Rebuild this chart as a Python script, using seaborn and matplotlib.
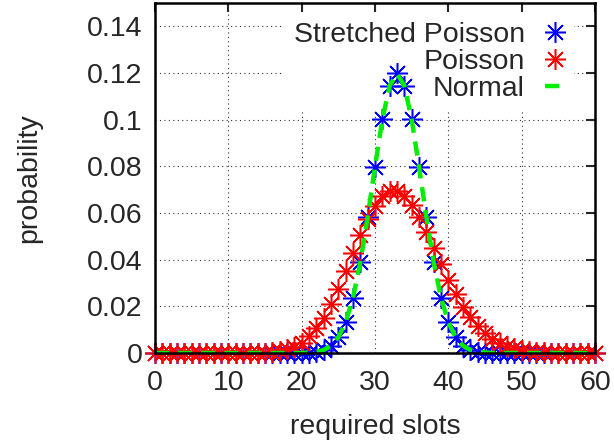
import seaborn as sns
import matplotlib.pyplot as plt

# valeurs
slots = list(range(0, 61))

stretched = [0.0] * 21 + [
    0.0002, 0.0005, 0.0013, 0.0031, 0.0067, 0.0132, 0.0237, 0.0389, 0.0583, 0.0799,
    0.1001, 0.1145, 0.1198, 0.1145, 0.1001, 0.0799, 0.0583, 0.0389, 0.0237, 0.0132,
    0.0067, 0.0031, 0.0013, 0.0005, 0.0002,
] + [0.0] * 15

poisson = [0.0] * 12 + [
    0.00002, 0.00004, 0.0001, 0.0002, 0.0004, 0.0009, 0.0016, 0.0027, 0.0045, 0.0071,
    0.0106, 0.0152, 0.0209, 0.0276, 0.0350, 0.0428, 0.0504, 0.0574, 0.0631, 0.0672,
    0.0693, 0.0693, 0.0672, 0.0634, 0.0581, 0.0518, 0.0450, 0.0381, 0.0314, 0.0253,
    0.0199, 0.0153, 0.0114, 0.0084, 0.0060, 0.0042, 0.0029, 0.0020, 0.0013, 0.0008,
    0.0005, 0.0003, 0.0002, 0.0001, 0.0001,
] + [0.0] * 4

normal = list(stretched)

xticks = [0, 10, 20, 30, 40, 50, 60]
yticks = [0, 0.02, 0.04, 0.06, 0.08, 0.1, 0.12, 0.14]
ytick_labels = ['0', '0.02', '0.04', '0.06', '0.08', '0.1', '0.12', '0.14']

sns.set_style('white')
plt.rcParams['font.family'] = ['Liberation Sans', 'DejaVu Sans']
fs = 20.5

fig = plt.figure(figsize=(6.14, 4.44), dpi=100)
ax = fig.add_axes([155 / 614, 1 - 353 / 444, 440 / 614, 350 / 444])

asterisk = (8, 2, 0)
ax.plot(slots, stretched, color='#0000ff', linestyle='none',
        marker=asterisk, markersize=15, markeredgewidth=1.1,
        clip_on=False, label='Stretched Poisson', zorder=3)
ax.plot(slots, poisson, color='#ff0000', linestyle='none',
        marker=asterisk, markersize=15, markeredgewidth=1.1,
        clip_on=False, label='Poisson', zorder=4)
sns.lineplot(x=slots, y=normal, ax=ax, color='#00ee00', linewidth=3.2,
             dashes=(3.2, 2.0), label='Normal', zorder=5)

ax.set_xlim(0, 60)
ax.set_ylim(0, 0.15)
ax.set_xticks(xticks)
ax.set_yticks(yticks)
ax.set_yticklabels(ytick_labels)
ax.grid(True, color='#333333', linestyle=(0, (1, 3)), linewidth=0.8, zorder=0.5)
ax.set_axisbelow(True)
ax.tick_params(direction='in', length=6.5, width=1.5, top=True, right=True,
               labelsize=fs)
ax.tick_params(axis='x', pad=12)
ax.tick_params(axis='y', pad=9)
for s in ax.spines.values():
    s.set_linewidth(1.8)
    s.set_color('black')
    s.set_zorder(6)

ax.set_xlabel('required slots', fontsize=fs, labelpad=13)
ax.set_ylabel('probability', fontsize=fs, labelpad=32)

leg = ax.legend(loc='upper right', bbox_to_anchor=(1 - 12 / 440, 1),
                markerfirst=False, frameon=True,
                framealpha=1, edgecolor='white', fancybox=False,
                handlelength=0.7, handletextpad=0.7, labelspacing=0.05,
                borderpad=0.35, borderaxespad=0.3, fontsize=fs)
leg.get_frame().set_linewidth(0)
leg.set_zorder(1)

fig.savefig('out.png', dpi=100)
